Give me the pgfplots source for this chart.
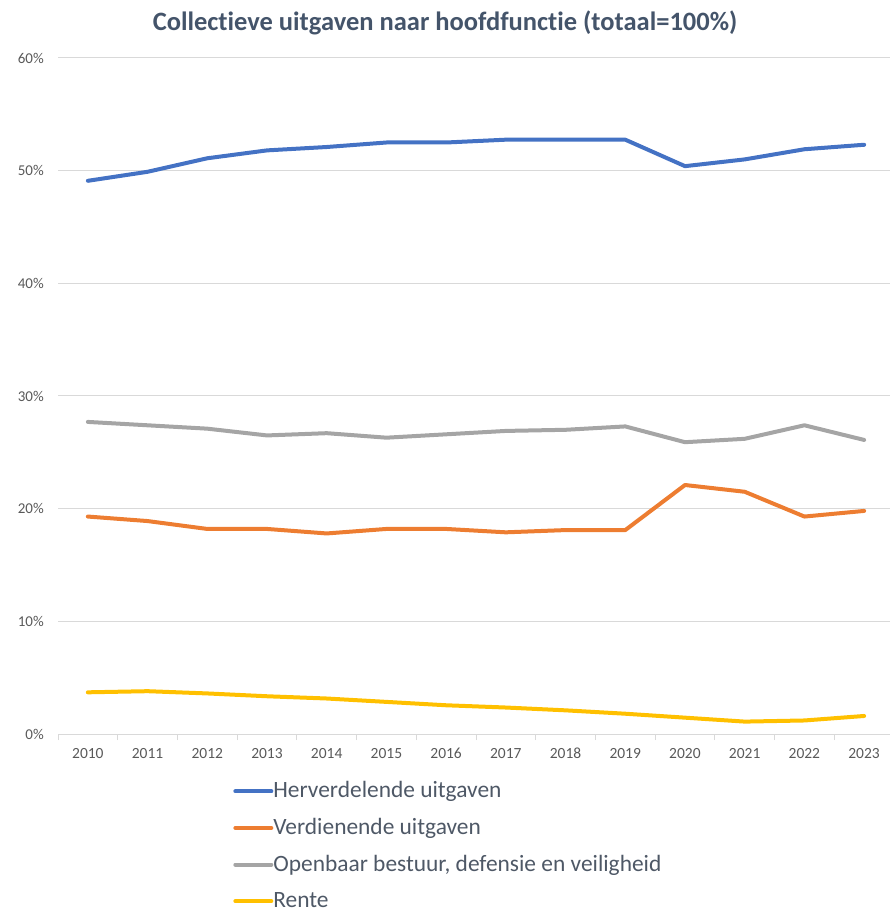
\documentclass[border=0pt]{standalone}
\usepackage{fontspec}
\setmainfont{Carlito}[Ligatures=NoCommon]
\usepackage{pgfplots}
\pgfplotsset{compat=1.18}
\definecolor{cblue}{HTML}{4472C4}
\definecolor{corange}{HTML}{ED7D31}
\definecolor{cgray}{HTML}{A5A5A5}
\definecolor{cyellow}{HTML}{FFC000}
\definecolor{titlec}{HTML}{44546A}
\definecolor{tickc}{HTML}{595959}
\definecolor{legc}{HTML}{4E5866}
\definecolor{gridc}{HTML}{D9D9D9}
\begin{document}
\begin{tikzpicture}[x=1pt,y=1pt]
\useasboundingbox (0,0) rectangle (890,914);
\node[font=\fontsize{26.5}{30}\selectfont\bfseries, text=titlec] at (445,891) {Collectieve uitgaven naar hoofdfunctie (totaal=100\%)};
\begin{axis}[
  at={(58pt,180pt)}, anchor=south west,
  scale only axis, width=836pt, height=676pt,
  xmin=2009.5, xmax=2023.5, ymin=0, ymax=60,
  xtick={2010,...,2023},
  minor xtick={2009.5,2010.5,...,2023.5},
  ytick={0,10,...,60},
  yticklabel={\pgfmathprintnumber{\tick}\%},
  /pgf/number format/assume math mode=true,
  /pgf/number format/1000 sep={},
  tick align=outside,
  major tick length=0pt,
  minor tick length=6pt,
  minor x tick style={draw=gridc, line width=1pt},
  axis x line*=bottom, axis y line*=left,
  x axis line style={draw=gridc, line width=1pt, -},
  y axis line style={draw=none},
  ymajorgrids, grid style={draw=gridc, line width=1pt},
  xticklabel style={font=\fontsize{15.5}{17}\selectfont, text=tickc, anchor=north, inner sep=0pt, text height=10.5pt, text depth=0pt, yshift=-14pt},
  yticklabel style={font=\fontsize{15}{17}\selectfont, text=tickc, anchor=east, inner sep=0pt, xshift=-14pt},
  clip=false,
  legend style={at={(0.2095,-0.069)}, anchor=north west, draw=none, fill=none, inner sep=0pt,
    font=\fontsize{23.4}{26}\selectfont, text=legc, row sep=19.6pt,
    nodes={inner sep=0pt, text height=17pt, text depth=0pt},
    /tikz/every even column/.append style={column sep=0pt}},
  legend cell align=left,
  legend image code/.code={\draw[#1, line width=4pt] (0pt,-2pt) -- (36pt,-2pt);},
  every axis plot/.append style={line width=4pt, line join=round, line cap=round, mark=none},
]
\addplot[cblue] coordinates {(2010,49.1) (2011,49.9) (2012,51.1) (2013,51.8) (2014,52.1) (2015,52.5) (2016,52.5) (2017,52.75) (2018,52.75) (2019,52.75) (2020,50.4) (2021,51.0) (2022,51.9) (2023,52.3)};
\addlegendentry{Herverdelende uitgaven}
\addplot[corange] coordinates {(2010,19.3) (2011,18.9) (2012,18.2) (2013,18.2) (2014,17.8) (2015,18.2) (2016,18.2) (2017,17.9) (2018,18.1) (2019,18.1) (2020,22.1) (2021,21.5) (2022,19.3) (2023,19.8)};
\addlegendentry{Verdienende uitgaven}
\addplot[cgray] coordinates {(2010,27.7) (2011,27.4) (2012,27.1) (2013,26.5) (2014,26.7) (2015,26.3) (2016,26.6) (2017,26.9) (2018,27.0) (2019,27.3) (2020,25.9) (2021,26.2) (2022,27.4) (2023,26.1)};
\addlegendentry{Openbaar bestuur, defensie en veiligheid}
\addplot[cyellow] coordinates {(2010,3.7) (2011,3.8) (2012,3.6) (2013,3.35) (2014,3.15) (2015,2.85) (2016,2.55) (2017,2.35) (2018,2.1) (2019,1.8) (2020,1.45) (2021,1.1) (2022,1.2) (2023,1.6)};
\addlegendentry{Rente}
\end{axis}
\end{tikzpicture}
\end{document}
